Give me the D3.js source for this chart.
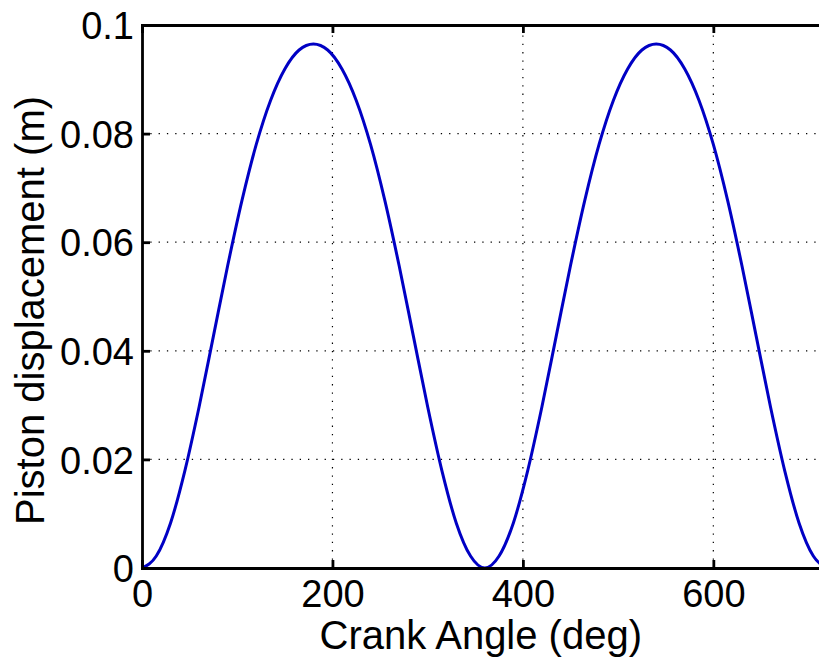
<!doctype html>
<html>
  <head>
    <meta charset="utf-8">
    <title>Piston displacement</title>
    <script src="https://cdn.jsdelivr.net/npm/d3@7"></script>
    <style>
      html, body { margin: 0; padding: 0; background: #fff; }
      svg { display: block; }
      text { font-family: "Liberation Sans", Arial, Helvetica, sans-serif; fill: #000; }
      .grid line { stroke: #000; stroke-width: 1.2; stroke-dasharray: 1.3 7; }
    </style>
  </head>
  <body>
    <svg id="chart" width="819" height="662"></svg>
<script>
// crank angle (deg) and piston displacement (m)
var angles = [0, 15, 30, 45, 60, 75, 90, 105, 120, 135, 150, 165, 180,
  195, 210, 225, 240, 255, 270, 285, 300, 315, 330, 345, 360,
  375, 390, 405, 420, 435, 450, 465, 480, 495, 510, 525, 540,
  555, 570, 585, 600, 615, 630, 645, 660, 675, 690, 705, 720];
var displacement = [0, 0.0022, 0.0083, 0.0179, 0.0297, 0.0427, 0.0557, 0.0677, 0.0780, 0.0861, 0.0919, 0.0954, 0.0965,
  0.0954, 0.0919, 0.0861, 0.0780, 0.0677, 0.0557, 0.0427, 0.0297, 0.0179, 0.0083, 0.0022, 0,
  0.0022, 0.0083, 0.0179, 0.0297, 0.0427, 0.0557, 0.0677, 0.0780, 0.0861, 0.0919, 0.0954, 0.0965,
  0.0954, 0.0919, 0.0861, 0.0780, 0.0677, 0.0557, 0.0427, 0.0297, 0.0179, 0.0083, 0.0022, 0];
var xTicks = [0, 200, 400, 600];
var yTicks = [0, 0.02, 0.04, 0.06, 0.08, 0.1];
var yTickLabels = ['0', '0.02', '0.04', '0.06', '0.08', '0.1'];

var svg = d3.select('#chart');

// axes box (right edge falls outside the picture)
var box = { left: 142, top: 25, bottom: 568, right: 827.6 };

var x = d3.scaleLinear().domain([0, 720]).range([box.left, box.right]);
var y = d3.scaleLinear().domain([0, 0.1]).range([box.bottom, box.top]);

// dotted grid
var grid = svg.append('g').attr('class', 'grid');
grid.selectAll('line.v').data(xTicks.filter(function(d) { return d > 0; }))
  .enter().append('line').attr('class', 'v')
  .attr('x1', function(d) { return x(d); }).attr('x2', function(d) { return x(d); })
  .attr('y1', box.bottom).attr('y2', box.top);
grid.selectAll('line.h').data(yTicks.filter(function(d) { return d > 0 && d < 0.1; }))
  .enter().append('line').attr('class', 'h')
  .attr('x1', box.left).attr('x2', box.right)
  .attr('y1', function(d) { return y(d); }).attr('y2', function(d) { return y(d); });

// curve
var line = d3.line()
  .x(function(d, i) { return x(angles[i]); })
  .y(function(d) { return y(d); })
  .curve(d3.curveMonotoneX);

svg.append('path')
  .datum(displacement)
  .attr('d', line)
  .attr('fill', 'none')
  .attr('stroke', '#0000c4')
  .attr('stroke-width', 3)
  .attr('stroke-linejoin', 'round');

// axes, ticks inside like matlab
var tickLen = 8;
var xAxisB = d3.axisBottom(x).tickValues(xTicks).tickSize(-tickLen).tickFormat(d3.format('d'));
var xAxisT = d3.axisTop(x).tickValues(xTicks).tickSize(-tickLen).tickFormat('');
var yAxisL = d3.axisLeft(y).tickValues(yTicks).tickSize(-tickLen).tickPadding(8)
  .tickFormat(function(d, i) { return yTickLabels[i]; });

function styleAxis(g) {
  g.attr('font-family', null).attr('font-size', 38);
  g.select('.domain').attr('stroke', '#000').attr('stroke-width', 2.8);
  g.selectAll('.tick line').attr('stroke', '#000').attr('stroke-width', 2.8);
}

svg.append('g').attr('transform', 'translate(0,' + box.bottom + ')').call(xAxisB).call(styleAxis)
  .selectAll('.tick text').attr('dy', null).attr('y', 39);
svg.append('g').attr('transform', 'translate(0,' + box.top + ')').call(xAxisT).call(styleAxis);
svg.append('g').attr('transform', 'translate(' + box.left + ',0)').call(yAxisL).call(styleAxis)
  .selectAll('.tick text').attr('dy', '0.36em');

// labels
svg.append('text')
  .attr('x', (box.left + box.right) / 2 - 4)
  .attr('y', 649)
  .attr('text-anchor', 'middle')
  .attr('font-size', 40)
  .text('Crank Angle (deg)');

svg.append('text')
  .attr('transform', 'translate(44,' + ((box.top + box.bottom) / 2 + 14) + ') rotate(-90)')
  .attr('text-anchor', 'middle')
  .attr('font-size', 40)
  .text('Piston displacement (m)');
</script>
  </body>
</html>
